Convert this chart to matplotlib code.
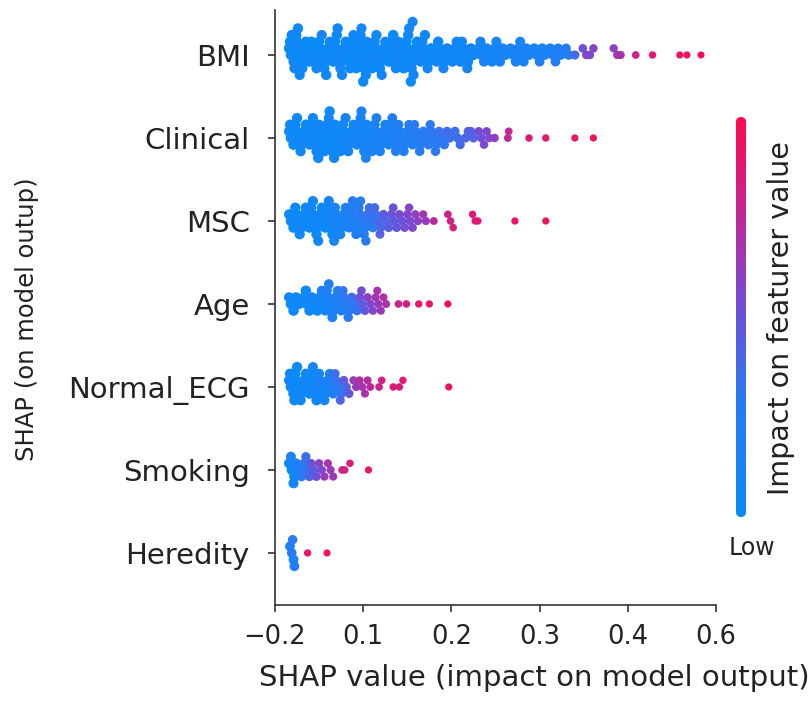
import numpy as np
import matplotlib
matplotlib.use('Agg')
import matplotlib.pyplot as plt
from matplotlib.colors import LinearSegmentedColormap
from matplotlib.patches import FancyBboxPatch

# rows, top to bottom
features = ['BMI', 'Clinical', 'MSC', 'Age', 'Normal_ECG', 'Smoking', 'Heredity']
x_tick_labels = ['\u22120.2', '0.1', '0.2', '0.3', '0.4', '0.6']

# SHAP values and the matching feature values (0 = low, 1 = high)
bmi_shap = [
    0.018, 0.016, 0.021, 0.017, 0.022, 0.019,
    0.027, 0.023, 0.030, 0.025, 0.031, 0.024, 0.028, 0.026,
    0.036, 0.033, 0.039, 0.035,
    0.045, 0.042, 0.048, 0.041, 0.047,
    0.054, 0.051, 0.057, 0.050, 0.056, 0.053, 0.058,
    0.063, 0.060, 0.066, 0.062,
    0.072, 0.069, 0.075, 0.068, 0.074, 0.070, 0.076, 0.071,
    0.081, 0.078, 0.084, 0.080, 0.085,
    0.090, 0.087, 0.093, 0.086, 0.092, 0.089,
    0.099, 0.096, 0.102, 0.095, 0.101, 0.097, 0.103, 0.098, 0.100,
    0.108, 0.105, 0.111, 0.104, 0.110,
    0.117, 0.114, 0.120, 0.113, 0.119, 0.115, 0.121,
    0.126, 0.123, 0.129, 0.125,
    0.135, 0.132, 0.138, 0.131, 0.137, 0.134,
    0.144, 0.141, 0.147, 0.140, 0.146,
    0.153, 0.150, 0.156, 0.149, 0.155, 0.151, 0.157, 0.152, 0.154, 0.156,
    0.162, 0.159, 0.165, 0.161,
    0.171, 0.168, 0.174, 0.167, 0.173, 0.170,
    0.180, 0.177, 0.183,
    0.189, 0.186, 0.192, 0.185, 0.191,
    0.198, 0.195, 0.201,
    0.207, 0.204, 0.210, 0.206,
    0.216, 0.213, 0.219, 0.212, 0.218,
    0.225, 0.222,
    0.234, 0.231, 0.237, 0.233,
    0.243, 0.240, 0.246,
    0.252, 0.249, 0.255, 0.251,
    0.261, 0.258,
    0.270, 0.267, 0.273,
    0.279, 0.276, 0.282, 0.278,
    0.288, 0.285,
    0.297, 0.294, 0.300,
    0.306, 0.303,
    0.315, 0.312, 0.318,
    0.324, 0.321,
    0.333, 0.330,
    0.340, 0.353, 0.349, 0.357, 0.361, 0.388, 0.384, 0.392, 0.409, 0.428, 0.459, 0.467, 0.483,
]
bmi_feat = [
    0.05, 0.00, 0.08, 0.02, 0.10, 0.04,
    0.03, 0.07, 0.00, 0.09, 0.05, 0.02, 0.06, 0.04,
    0.08, 0.01, 0.06, 0.03,
    0.02, 0.05, 0.10, 0.00, 0.07,
    0.06, 0.03, 0.08, 0.01, 0.05, 0.09, 0.04,
    0.00, 0.07, 0.02, 0.10,
    0.08, 0.01, 0.06, 0.04, 0.09, 0.02, 0.07, 0.05,
    0.03, 0.10, 0.00, 0.06, 0.08,
    0.07, 0.05, 0.09, 0.01, 0.04, 0.08,
    0.06, 0.02, 0.10, 0.05, 0.00, 0.07, 0.04, 0.09, 0.03,
    0.08, 0.01, 0.06, 0.10, 0.04,
    0.09, 0.00, 0.05, 0.08, 0.03, 0.06, 0.10,
    0.04, 0.07, 0.01, 0.09,
    0.06, 0.02, 0.10, 0.04, 0.07, 0.00,
    0.05, 0.09, 0.03, 0.08, 0.01,
    0.02, 0.07, 0.05, 0.00, 0.09, 0.03, 0.06, 0.08, 0.04, 0.10,
    0.06, 0.03, 0.09, 0.01,
    0.04, 0.10, 0.02, 0.06, 0.08, 0.05,
    0.07, 0.03, 0.09,
    0.04, 0.08, 0.06, 0.02, 0.09,
    0.05, 0.10, 0.07,
    0.06, 0.09, 0.04, 0.10,
    0.08, 0.05, 0.10, 0.07, 0.09,
    0.06, 0.10,
    0.09, 0.07, 0.12, 0.10,
    0.08, 0.11, 0.09,
    0.10, 0.13, 0.09, 0.12,
    0.11, 0.14,
    0.12, 0.15, 0.11,
    0.14, 0.12, 0.16, 0.13,
    0.15, 0.17,
    0.16, 0.14, 0.18,
    0.18, 0.15,
    0.19, 0.17, 0.20,
    0.21, 0.23,
    0.24, 0.26,
    0.38, 0.55, 0.52, 0.57, 0.59, 0.65, 0.62, 0.68, 0.80, 0.88, 0.93, 0.95, 0.98,
]

clinical_shap = [
    0.018, 0.016, 0.021, 0.017,
    0.027, 0.024, 0.030, 0.023, 0.029, 0.025,
    0.036, 0.033, 0.039, 0.035,
    0.045, 0.042, 0.048, 0.041, 0.047, 0.043, 0.049,
    0.054, 0.051, 0.057, 0.050, 0.056,
    0.063, 0.060, 0.066, 0.059, 0.065, 0.061, 0.067, 0.062,
    0.072, 0.069, 0.075, 0.068, 0.074,
    0.081, 0.078, 0.084, 0.077, 0.083, 0.080,
    0.090, 0.087, 0.093, 0.089,
    0.099, 0.096, 0.102, 0.095, 0.101, 0.097, 0.103, 0.098,
    0.108, 0.105, 0.111, 0.104, 0.110,
    0.117, 0.114, 0.120, 0.113, 0.119, 0.115,
    0.126, 0.123, 0.129, 0.125,
    0.135, 0.132, 0.138, 0.131, 0.137, 0.133,
    0.144, 0.141, 0.147, 0.140, 0.146,
    0.153, 0.150, 0.156, 0.152,
    0.162, 0.159, 0.165, 0.158, 0.164,
    0.171, 0.168, 0.174,
    0.180, 0.177, 0.183, 0.176, 0.182,
    0.189, 0.186, 0.192,
    0.198, 0.195,
    0.207, 0.204, 0.210,
    0.216, 0.219,
    0.225, 0.222,
    0.234, 0.231, 0.237,
    0.243, 0.240,
    0.249,
    0.264, 0.265, 0.288, 0.307, 0.340, 0.361,
]
clinical_feat = [
    0.02, 0.06, 0.00, 0.08,
    0.05, 0.01, 0.09, 0.03, 0.07, 0.04,
    0.06, 0.02, 0.10, 0.04,
    0.03, 0.07, 0.05, 0.00, 0.09, 0.06, 0.02,
    0.08, 0.04, 0.02, 0.10, 0.06,
    0.05, 0.09, 0.01, 0.07, 0.04, 0.10, 0.06, 0.03,
    0.08, 0.03, 0.11, 0.05, 0.09,
    0.10, 0.06, 0.12, 0.08, 0.11, 0.09,
    0.11, 0.08, 0.13, 0.10,
    0.12, 0.09, 0.14, 0.11, 0.13, 0.10, 0.15, 0.12,
    0.13, 0.11, 0.15, 0.12, 0.16,
    0.15, 0.13, 0.17, 0.14, 0.16, 0.18,
    0.16, 0.19, 0.17, 0.15,
    0.18, 0.21, 0.19, 0.17, 0.22, 0.20,
    0.21, 0.19, 0.23, 0.22, 0.20,
    0.23, 0.25, 0.22, 0.26,
    0.25, 0.27, 0.24, 0.28, 0.26,
    0.27, 0.29, 0.26,
    0.29, 0.31, 0.30, 0.32, 0.30,
    0.32, 0.34, 0.31,
    0.34, 0.36,
    0.37, 0.35, 0.38,
    0.40, 0.41,
    0.42, 0.44,
    0.50, 0.53, 0.55,
    0.56, 0.58,
    0.60,
    0.76, 0.78, 0.86, 0.88, 0.92, 0.94,
]

msc_shap = [
    0.018, 0.016, 0.021,
    0.027, 0.024, 0.030, 0.023, 0.028,
    0.036, 0.033, 0.039, 0.035,
    0.045, 0.042, 0.048, 0.041, 0.047, 0.043, 0.049,
    0.054, 0.051, 0.057, 0.053,
    0.063, 0.060, 0.066, 0.059, 0.065, 0.061, 0.067,
    0.072, 0.069, 0.075, 0.068, 0.074,
    0.081, 0.078, 0.084, 0.080,
    0.090, 0.087, 0.093, 0.086, 0.092, 0.088,
    0.099, 0.096, 0.102, 0.095, 0.101, 0.097, 0.103,
    0.108, 0.105, 0.111, 0.107,
    0.117, 0.114, 0.120, 0.113, 0.119,
    0.126, 0.123, 0.129,
    0.135, 0.132, 0.138, 0.134,
    0.144, 0.141, 0.147,
    0.153, 0.150, 0.156, 0.152,
    0.162, 0.159,
    0.171, 0.168,
    0.180, 0.199, 0.196, 0.202, 0.227, 0.224, 0.230, 0.272, 0.307,
]
msc_feat = [
    0.03, 0.07, 0.00,
    0.06, 0.02, 0.09, 0.04, 0.05,
    0.01, 0.08, 0.05, 0.03,
    0.07, 0.02, 0.06, 0.09, 0.04, 0.08, 0.10,
    0.05, 0.10, 0.03, 0.07,
    0.09, 0.04, 0.12, 0.08, 0.06, 0.10, 0.13,
    0.11, 0.14, 0.09, 0.15, 0.12,
    0.15, 0.18, 0.14, 0.20,
    0.19, 0.22, 0.18, 0.24, 0.21, 0.23,
    0.24, 0.27, 0.22, 0.29, 0.26, 0.30, 0.28,
    0.31, 0.34, 0.29, 0.36,
    0.38, 0.35, 0.41, 0.39, 0.43,
    0.42, 0.45, 0.44,
    0.46, 0.49, 0.48, 0.51,
    0.50, 0.53, 0.52,
    0.54, 0.57, 0.56, 0.58,
    0.59, 0.61,
    0.64, 0.66,
    0.74, 0.82, 0.80, 0.84, 0.87, 0.86, 0.88, 0.92, 0.95,
]

age_shap = [
    0.018, 0.016, 0.021,
    0.027, 0.024,
    0.036, 0.033, 0.039, 0.035,
    0.045, 0.042, 0.048,
    0.054, 0.051, 0.057, 0.053,
    0.063, 0.060, 0.066, 0.059, 0.065, 0.061,
    0.072, 0.069, 0.075, 0.071,
    0.081, 0.078, 0.084, 0.077, 0.083,
    0.090, 0.087, 0.093,
    0.099, 0.096, 0.102, 0.098,
    0.108, 0.105, 0.111,
    0.117, 0.114, 0.120, 0.116,
    0.126, 0.123,
    0.140, 0.149, 0.163, 0.175, 0.196,
]
age_feat = [
    0.03, 0.07, 0.01,
    0.05, 0.08,
    0.04, 0.09, 0.06, 0.02,
    0.07, 0.10, 0.05,
    0.09, 0.13, 0.11, 0.15,
    0.14, 0.17, 0.12, 0.19, 0.16, 0.20,
    0.18, 0.22, 0.20, 0.24,
    0.26, 0.29, 0.27, 0.31, 0.30,
    0.32, 0.35, 0.33,
    0.46, 0.50, 0.48, 0.53,
    0.56, 0.60, 0.58,
    0.63, 0.66, 0.65, 0.68,
    0.68, 0.71,
    0.80, 0.82, 0.88, 0.90, 0.95,
]

ecg_shap = [
    0.018, 0.016, 0.021, 0.017, 0.022,
    0.027, 0.024, 0.030, 0.023, 0.029, 0.025,
    0.036, 0.033, 0.039, 0.035,
    0.045, 0.042, 0.048, 0.041, 0.047, 0.043,
    0.054, 0.051, 0.057, 0.050, 0.056,
    0.063, 0.060, 0.066, 0.062,
    0.072, 0.069, 0.075, 0.068, 0.074,
    0.081, 0.078, 0.084,
    0.092, 0.089,
    0.099, 0.096, 0.102,
    0.108, 0.105,
    0.118, 0.121, 0.134, 0.141, 0.145, 0.197,
]
ecg_feat = [
    0.02, 0.06, 0.00, 0.08, 0.04,
    0.05, 0.01, 0.09, 0.03, 0.07, 0.02,
    0.06, 0.10, 0.04, 0.08,
    0.09, 0.05, 0.11, 0.03, 0.08, 0.12,
    0.10, 0.14, 0.07, 0.13, 0.11,
    0.15, 0.19, 0.17, 0.22,
    0.28, 0.32, 0.30, 0.36, 0.40,
    0.42, 0.46, 0.48,
    0.66, 0.64,
    0.67, 0.71, 0.70,
    0.74, 0.72,
    0.80, 0.82, 0.84, 0.86, 0.87, 0.95,
]

smoking_shap = [
    0.019, 0.016, 0.022, 0.018, 0.021,
    0.027, 0.024, 0.030,
    0.036, 0.033, 0.039, 0.035,
    0.044, 0.041, 0.047,
    0.053, 0.050, 0.056,
    0.063, 0.060, 0.066,
    0.076, 0.079, 0.085, 0.106,
]
smoking_feat = [
    0.05, 0.10, 0.00, 0.15, 0.10,
    0.25, 0.20, 0.30,
    0.35, 0.30, 0.40, 0.35,
    0.45, 0.50, 0.50,
    0.55, 0.60, 0.64,
    0.64, 0.68, 0.66,
    0.80, 0.82, 0.86, 0.95,
]

heredity_shap = [0.019, 0.017, 0.021, 0.020, 0.022, 0.037, 0.059]
heredity_feat = [0.25, 0.20, 0.15, 0.30, 0.20, 0.90, 0.95]

rows = [
    (bmi_shap, bmi_feat),
    (clinical_shap, clinical_feat),
    (msc_shap, msc_feat),
    (age_shap, age_feat),
    (ecg_shap, ecg_feat),
    (smoking_shap, smoking_feat),
    (heredity_shap, heredity_feat),
]

# shap style red-blue map, blue holds a bit longer before the purple
cmap = LinearSegmentedColormap.from_list(
    'red_blue',
    [(0.0, '#0a8bfa'), (0.3, '#2a7af2'), (0.55, '#7a49d2'),
     (0.78, '#c8248f'), (1.0, '#ff0a50')])


def swarm(vals, bin_w=0.009, step=0.08):
    # same idea as shap's beeswarm: bin the values, stack each bin up and down
    vals = np.asarray(vals)
    q = np.round(vals / bin_w)
    order = np.argsort(q, kind='stable')
    ys = np.zeros(len(vals))
    layer, last = 0, None
    for i in order:
        if q[i] != last:
            layer = 0
        ys[i] = np.ceil(layer / 2) * ((layer % 2) * 2 - 1)
        layer += 1
        last = q[i]
    return ys * step


fig = plt.figure(figsize=(8.11, 7.02), dpi=100)
ax = fig.add_axes([275 / 811, 97 / 702, 441 / 811, 595 / 702])

n = len(features)
for i, (sv, fv) in enumerate(rows):
    sv = np.asarray(sv)
    fv = np.asarray(fv)
    assert len(sv) == len(fv), features[i]
    y = (n - 1 - i) + swarm(sv)
    sizes = ((10.5 - 3.5 * fv) * 0.72) ** 2
    ax.scatter(sv, y, s=sizes, c=cmap(fv), linewidths=0, zorder=3)

ax.set_xlim(0, 0.5)
ax.set_ylim(-0.627, 6.542)
ax.set_yticks(range(n))
ax.set_yticklabels(features[::-1], fontsize=21)
ax.set_xticks(np.arange(len(x_tick_labels)) * 0.1)
ax.set_xticklabels(x_tick_labels, fontsize=18.5)
ax.tick_params(axis='y', length=5, width=1.2, pad=13, colors='#333333', labelcolor='#222222')
ax.tick_params(axis='x', length=5, width=1.2, pad=9, colors='#333333', labelcolor='#222222')
for side in ['top', 'right']:
    ax.spines[side].set_visible(False)
for side in ['left', 'bottom']:
    ax.spines[side].set_color('#333333')
    ax.spines[side].set_linewidth(1.2)

fig.text(534 / 811, 1 - 678 / 702, 'SHAP value (impact on model output)',
         fontsize=21, ha='center', va='center', color='#222222')
fig.text(27 / 811, 1 - 319 / 702, 'SHAP (on model outup)', rotation=90,
         fontsize=17.5, ha='center', va='center', color='#222222')

# colour bar with rounded ends
cax = fig.add_axes([736 / 811, 185 / 702, 10 / 811, 400 / 702])
grad = np.linspace(0, 1, 256).reshape(-1, 1)
im = cax.imshow(grad, aspect='auto', cmap=cmap, origin='lower', extent=(0, 1, 0, 1))
cax.set_xlim(0, 1)
cax.set_ylim(0, 1)
cax.axis('off')
rounded = FancyBboxPatch((0, 0), 1, 1, boxstyle='round,pad=0,rounding_size=0.5',
                         mutation_aspect=10 / 400, transform=cax.transData,
                         facecolor='none', edgecolor='none')
cax.add_patch(rounded)
im.set_clip_path(rounded)

fig.text(781 / 811, 1 - 318 / 702, 'Impact on featurer value', rotation=90,
         fontsize=20.5, ha='center', va='center', color='#222222')
fig.text(752 / 811, 1 - 548 / 702, 'Low', fontsize=17, ha='center', va='center',
         color='#222222')

fig.savefig('out.png', dpi=100)
